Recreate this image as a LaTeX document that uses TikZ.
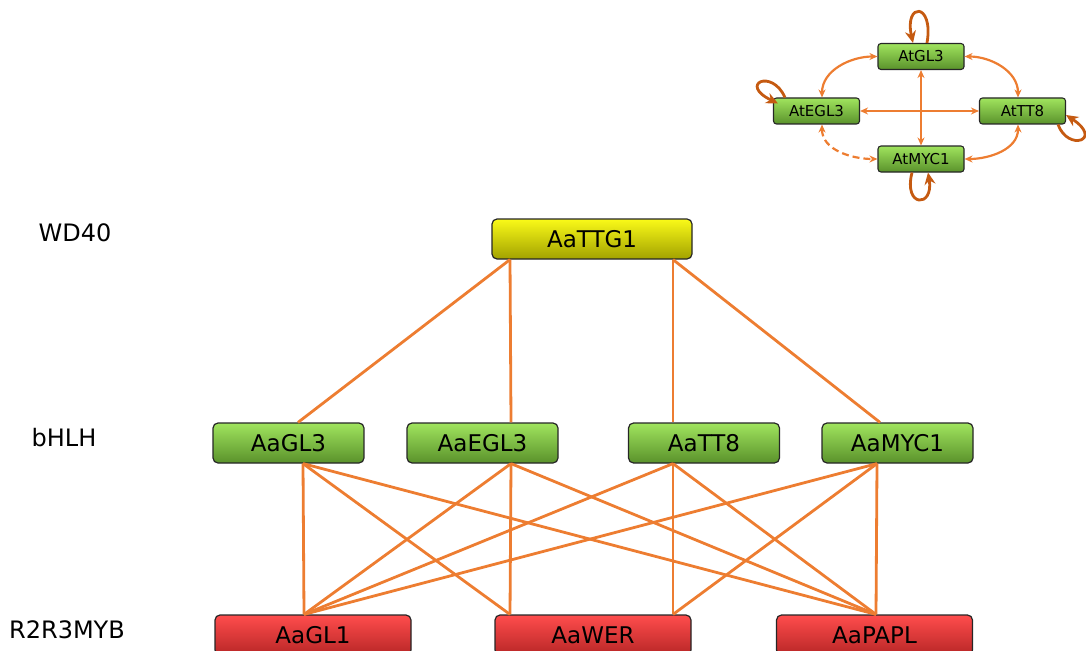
\documentclass[tikz,border=0pt]{standalone}
\usepackage{fontspec}
\setmainfont{DejaVu Sans}
\usetikzlibrary{arrows.meta,calc}
\definecolor{link}{HTML}{ED7D31}
\definecolor{loopc}{HTML}{C55A11}
\definecolor{grtop}{HTML}{A0E45E}
\definecolor{grbot}{HTML}{5A922B}
\definecolor{yetop}{HTML}{FAFA18}
\definecolor{yebot}{HTML}{A2A200}
\definecolor{rdtop}{HTML}{FF4D4D}
\definecolor{rdbot}{HTML}{B82626}
\tikzset{
  box/.style={draw=black!85, line width=1.2pt, rounded corners=5pt,
    minimum height=40pt, inner sep=0pt,
    font=\fontsize{23}{26}\selectfont},
  wdbox/.style={box, top color=yetop, bottom color=yebot, minimum width=200pt},
  bhbox/.style={box, top color=grtop, bottom color=grbot, minimum width=151pt},
  mybbox/.style={box, top color=rdtop, bottom color=rdbot, minimum width=196pt},
  smallbox/.style={draw=black!85, line width=1.1pt, rounded corners=3pt,
    top color=grtop, bottom color=grbot, minimum width=86pt,
    minimum height=26pt, inner sep=0pt, font=\fontsize{15}{17}\selectfont},
  tier/.style={font=\fontsize{24}{28}\selectfont},
  wire/.style={draw=link, line width=2.8pt},
  inl/.style={draw=link, line width=2.2pt,
    arrows={Stealth[length=8pt,width=7pt]-Stealth[length=8pt,width=7pt]}},
  selfl/.style={draw=loopc, line width=2.8pt,
    -{Stealth[length=12pt,width=11pt]}}
}
\begin{document}
\begin{tikzpicture}[x=1pt,y=-1pt]
\useasboundingbox (0,0) rectangle (1086,650);
\clip (0,0) rectangle (1086,650);

% tier labels
\node[tier] (lwd) at (75,233) {WD40};
\node[tier] (lbh) at (64,438) {bHLH};
\node[tier] (lmyb) at (67,630) {R2R3MYB};

% main network nodes
\node[wdbox] (TTG1) at (592,239) {AaTTG1};
\node[bhbox] (GL3) at (288.5,443) {AaGL3};
\node[bhbox] (EGL3) at (482.5,443) {AaEGL3};
\node[bhbox] (TT8) at (704,443) {AaTT8};
\node[bhbox] (MYC1) at (897.5,443) {AaMYC1};
\node[mybbox] (GL1) at (313,635) {AaGL1};
\node[mybbox] (WER) at (593,635) {AaWER};
\node[mybbox] (PAPL) at (874.5,635) {AaPAPL};

% attachment points on the node borders
\coordinate (ttgL) at ($(TTG1.south)+(-82,0)$);
\coordinate (ttgR) at ($(TTG1.south)+(81,0)$);
\coordinate (gl3T) at ($(GL3.north)+(9.5,0)$);
\coordinate (egl3T) at ($(EGL3.north)+(28.5,0)$);
\coordinate (tt8T) at ($(TT8.north)+(-31,0)$);
\coordinate (myc1T) at ($(MYC1.north)+(-17.5,0)$);
\coordinate (gl3B) at ($(GL3.south)+(14.5,0)$);
\coordinate (egl3B) at ($(EGL3.south)+(28.5,0)$);
\coordinate (tt8B) at ($(TT8.south)+(-31,0)$);
\coordinate (myc1B) at ($(MYC1.south)+(-20.5,0)$);
\coordinate (gl1T) at ($(GL1.north)+(-9,0)$);
\coordinate (werL) at ($(WER.north)+(-83,0)$);
\coordinate (werR) at ($(WER.north)+(80,0)$);
\coordinate (paplT) at ($(PAPL.north)+(1.5,0)$);

% WD40 -- bHLH
\draw[wire] (ttgL) -- (gl3T);
\draw[wire] (ttgL) -- (egl3T);
\draw[wire] (ttgR) -- (tt8T);
\draw[wire] (ttgR) -- (myc1T);
% bHLH -- R2R3MYB
\draw[wire] (gl3B) -- (gl1T);
\draw[wire] (gl3B) -- (werL);
\draw[wire] (gl3B) -- (paplT);
\draw[wire] (egl3B) -- (gl1T);
\draw[wire] (egl3B) -- (werL);
\draw[wire] (egl3B) -- (paplT);
\draw[wire] (tt8B) -- (gl1T);
\draw[wire] (tt8B) -- (werR);
\draw[wire] (tt8B) -- (paplT);
\draw[wire] (myc1B) -- (gl1T);
\draw[wire] (myc1B) -- (werR);
\draw[wire] (myc1B) -- (paplT);

% Arabidopsis bHLH interaction inset
\node[smallbox] (aGL3) at (921,56.5) {AtGL3};
\node[smallbox] (aEGL3) at (816.5,111) {AtEGL3};
\node[smallbox] (aTT8) at (1022.5,111) {AtTT8};
\node[smallbox] (aMYC1) at (921,159) {AtMYC1};

\draw[inl] (aEGL3.east) -- (aTT8.west);
\draw[inl] (aGL3.south) -- (aMYC1.north);
\draw[inl] (aGL3.west) to[out=180,in=90] ($(aEGL3.north)+(5.5,0)$);
\draw[inl] (aGL3.east) to[out=0,in=90] ($(aTT8.north)+(-4.5,0)$);
\draw[inl] ($(aTT8.south)+(-4.5,0)$) to[out=-90,in=0] (aMYC1.east);
\draw[inl, dashed, dash pattern=on 7pt off 4pt] ($(aEGL3.south)+(5.5,0)$) to[out=-90,in=180] (aMYC1.west);

% self-interaction loops
\draw[selfl] ($(aGL3.north)+(6,0)$) .. controls (934,2) and (904,2) .. ($(aGL3.north)+(-8,0)$);
\draw[selfl] ($(aEGL3.north west)+(12,0)$) .. controls (772,68) and (738,84) .. ($(aEGL3.north west)+(5,6)$);
\draw[selfl] ($(aTT8.south east)+(-8,0)$) .. controls (1068,152) and (1104,140) .. ($(aTT8.east)+(0,4)$);
\draw[selfl] ($(aMYC1.south)+(-9,0)$) .. controls (903,208) and (934,208) .. ($(aMYC1.south)+(7,0)$);
\end{tikzpicture}
\end{document}
